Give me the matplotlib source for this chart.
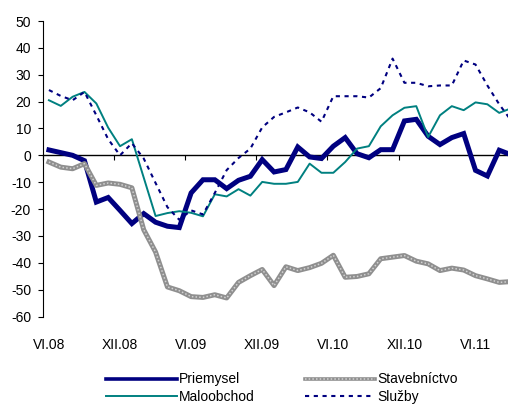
import numpy as np
import matplotlib
matplotlib.use('Agg')
import matplotlib.pyplot as plt
from matplotlib.transforms import blended_transform_factory
from matplotlib.legend_handler import HandlerTuple

plt.rcParams['font.family'] = ['Liberation Sans', 'DejaVu Sans']
plt.rcParams['axes.unicode_minus'] = False

# monthly data VI.08 .. IX.11
tick_labels = ["VI.08", "XII.08", "VI.09", "XII.09", "VI.10", "XII.10", "VI.11"]

priemysel = [2, 1, 0, -2, -17.4, -15.7, -20.5, -25.4, -21.7, -24.9,
             -26.4, -26.9, -14, -9.1, -9.1, -12.4, -9.3, -7.8, -1.6, -6.2,
             -5.3, 3.1, -0.6, -1.2, 3.4, 6.6, 0.6, -0.9, 2.1, 2.1,
             12.8, 13.4, 7.1, 4, 6.6, 8.1, -5.6, -7.7, 1.9, 0.2]
stavebnictvo = [-2.5, -4.4, -5, -3.1, -11.2, -10.3, -10.8, -12.1, -27.7, -36,
                -49, -50.4, -52.6, -52.9, -51.9, -53.1, -47.3, -44.8, -42.5, -48.5,
                -41.5, -42.9, -41.8, -40.2, -37.2, -45.4, -45.1, -44.1, -38.5, -37.9,
                -37.3, -39.4, -40.4, -42.9, -42, -42.7, -44.8, -46, -47.3, -47]
maloobchod = [20.5, 18.4, 21.8, 23.6, 19.3, 10.3, 3.4, 6, -8.3, -22.6,
              -21.5, -20.8, -21.4, -22.7, -14.5, -15.3, -12.6, -15, -9.9, -10.6,
              -10.6, -9.9, -3.1, -6.5, -6.5, -2.5, 2.5, 3.4, 10.8, 14.9,
              17.7, 18.3, 6.8, 14.9, 18.3, 16.8, 19.7, 19, 15.8, 17.5]
sluzby = [24.3, 22.1, 20.5, 23.6, 14.9, 6, 0, 4.5, -1.2, -10.3,
          -19.3, -24, -20.5, -22, -14, -5.5, -1, 2.5, 10.4, 14.3,
          16, 17.8, 16, 12.5, 22, 22, 22, 21.5, 25, 36,
          27, 27, 25.7, 26, 26, 35.3, 33.8, 26, 19, 13]

x = np.arange(len(priemysel))

fig = plt.figure(figsize=(5.08, 4.04), dpi=100)
ax = fig.add_axes([43 / 508, 1 - 316.5 / 404, 474 / 508, 295.5 / 404])

navy = '#000080'
teal = '#008080'

l_p, = ax.plot(x, priemysel, color=navy, lw=3.6, solid_joinstyle='miter', zorder=3)
l_s1, = ax.plot(x, stavebnictvo, color='#8f8f8f', lw=3.6, zorder=3)
l_s2, = ax.plot(x, stavebnictvo, color='#d2d2d2', lw=1.1, ls=(0, (1, 1.4)), zorder=3)
l_m, = ax.plot(x, maloobchod, color=teal, lw=1.4, zorder=4)
l_sl, = ax.plot(x, sluzby, color=navy, lw=1.5, ls=(0, (2, 2.2)), zorder=5)

ax.set_xlim(-0.5, len(x) - 0.5)
ax.set_ylim(-60, 50)
ax.set_yticks(np.arange(-60, 51, 10))
ax.tick_params(axis='y', direction='out', length=3.6, width=0.8, pad=5, labelsize=10)

# horizontal axis sits on the zero line, ticks between categories
ax.spines['top'].set_visible(False)
ax.spines['right'].set_visible(False)
ax.spines['bottom'].set_position(('data', 0))
ax.spines['bottom'].set_linewidth(1.0)
ax.spines['left'].set_linewidth(0.8)
ax.set_xticks(np.arange(-0.5, len(x), 6))
ax.set_xticklabels([])
ax.tick_params(axis='x', direction='out', length=3.6, width=0.8)

trans = blended_transform_factory(ax.transData, ax.transAxes)
for k, lab in enumerate(tick_labels):
    ax.text(6 * k, -0.097, lab, transform=trans, ha='center', va='center', fontsize=10)

handles = [l_p, l_m, (l_s1, l_s2), l_sl]
labels = ["Priemysel", "Maloobchod", "Stavebníctvo", "Služby"]
leg = fig.legend(handles, labels, ncol=2, loc='center', bbox_to_anchor=(282 / 508, 1 - 388 / 404),
                 frameon=False, fontsize=10, handlelength=5.1, handletextpad=0.15,
                 columnspacing=3.6, labelspacing=0.22, borderpad=0,
                 handler_map={tuple: HandlerTuple(ndivide=1, pad=0)})
# legend keys are drawn a bit thinner than the chart lines
for ln in leg.get_lines():
    if ln.get_linewidth() > 3:
        ln.set_linewidth(2.6)

fig.savefig('out.png', dpi=100)
